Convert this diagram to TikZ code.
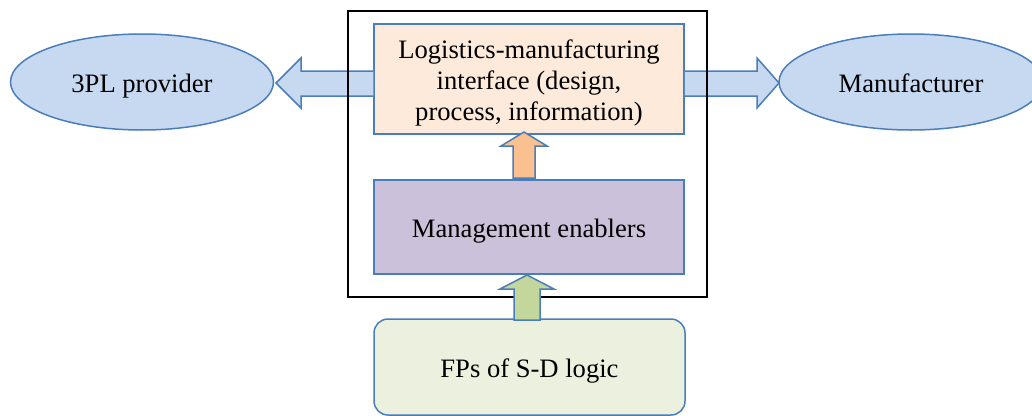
\documentclass[tikz,border=0pt]{standalone}
\usepackage{fontspec}
\setmainfont{Liberation Serif}
\usetikzlibrary{shapes.geometric}
\definecolor{edgeblue}{HTML}{4A7EBB}
\definecolor{ellfill}{HTML}{C6D9F1}
\definecolor{peach}{HTML}{FDEADA}
\definecolor{orangearrow}{HTML}{FAC090}
\definecolor{purplefill}{HTML}{CCC1DA}
\definecolor{greenarrow}{HTML}{C3D69B}
\definecolor{greenfill}{HTML}{EBF1DE}
\tikzset{
 x=1pt,y=-1pt,
 every node/.style={font=\fontsize{26.6}{31}\selectfont, text=black, align=center, inner sep=0pt},
 ln/.style={draw=edgeblue, line width=1.5pt},
 ell/.style={ln, ellipse, fill=ellfill},
 boxn/.style={ln, rectangle},
 arrowshape/.style={ln, line join=miter},
 lower/.style={execute at begin node={\rule{0pt}{#1}}},
 lower/.default=26pt,
}
\begin{document}
\begin{tikzpicture}
\useasboundingbox (0,0) rectangle (1032,415);
\node[ell, lower, minimum width=263pt, minimum height=96pt] (tpl) at (142,82) {3PL provider};
\node[ell, lower=21pt, minimum width=264pt, minimum height=96pt] (man) at (911,82) {Manufacturer};
\node[boxn, fill=peach, minimum width=310pt, minimum height=110pt] (iface) at (529,79) {\rule{0pt}{26pt}Logistics-manufacturing\\interface (design,\\process, information)};
\draw[arrowshape, fill=ellfill] (iface.west |- 0,71) -- (301,71) -- (301,58) -- (276,83) -- (301,108) -- (301,96) -- (iface.west |- 0,96);
\draw[arrowshape, fill=ellfill] (iface.east |- 0,71) -- (757,71) -- (757,58) -- (779,83) -- (757,108) -- (757,96) -- (iface.east |- 0,96);
\draw[black, line width=1.6pt] (348,11) rectangle (707,297);
\node[boxn, lower, fill=purplefill, minimum width=310pt, minimum height=94pt] (enab) at (529,227) {Management enablers};
\node[boxn, lower, fill=greenfill, rounded corners=14pt, minimum width=311pt, minimum height=96pt] (fps) at (529.5,367) {FPs of S-D logic};
\draw[arrowshape, fill=orangearrow] (513,178) -- (513,146) -- (501,146) -- (524,132) -- (547,146) -- (535,146) -- (535,178) -- cycle;
\draw[arrowshape, fill=greenarrow] (514,320) -- (514,289) -- (500,289) -- (527,275) -- (554,289) -- (540,289) -- (540,320) -- cycle;
\end{tikzpicture}
\end{document}
